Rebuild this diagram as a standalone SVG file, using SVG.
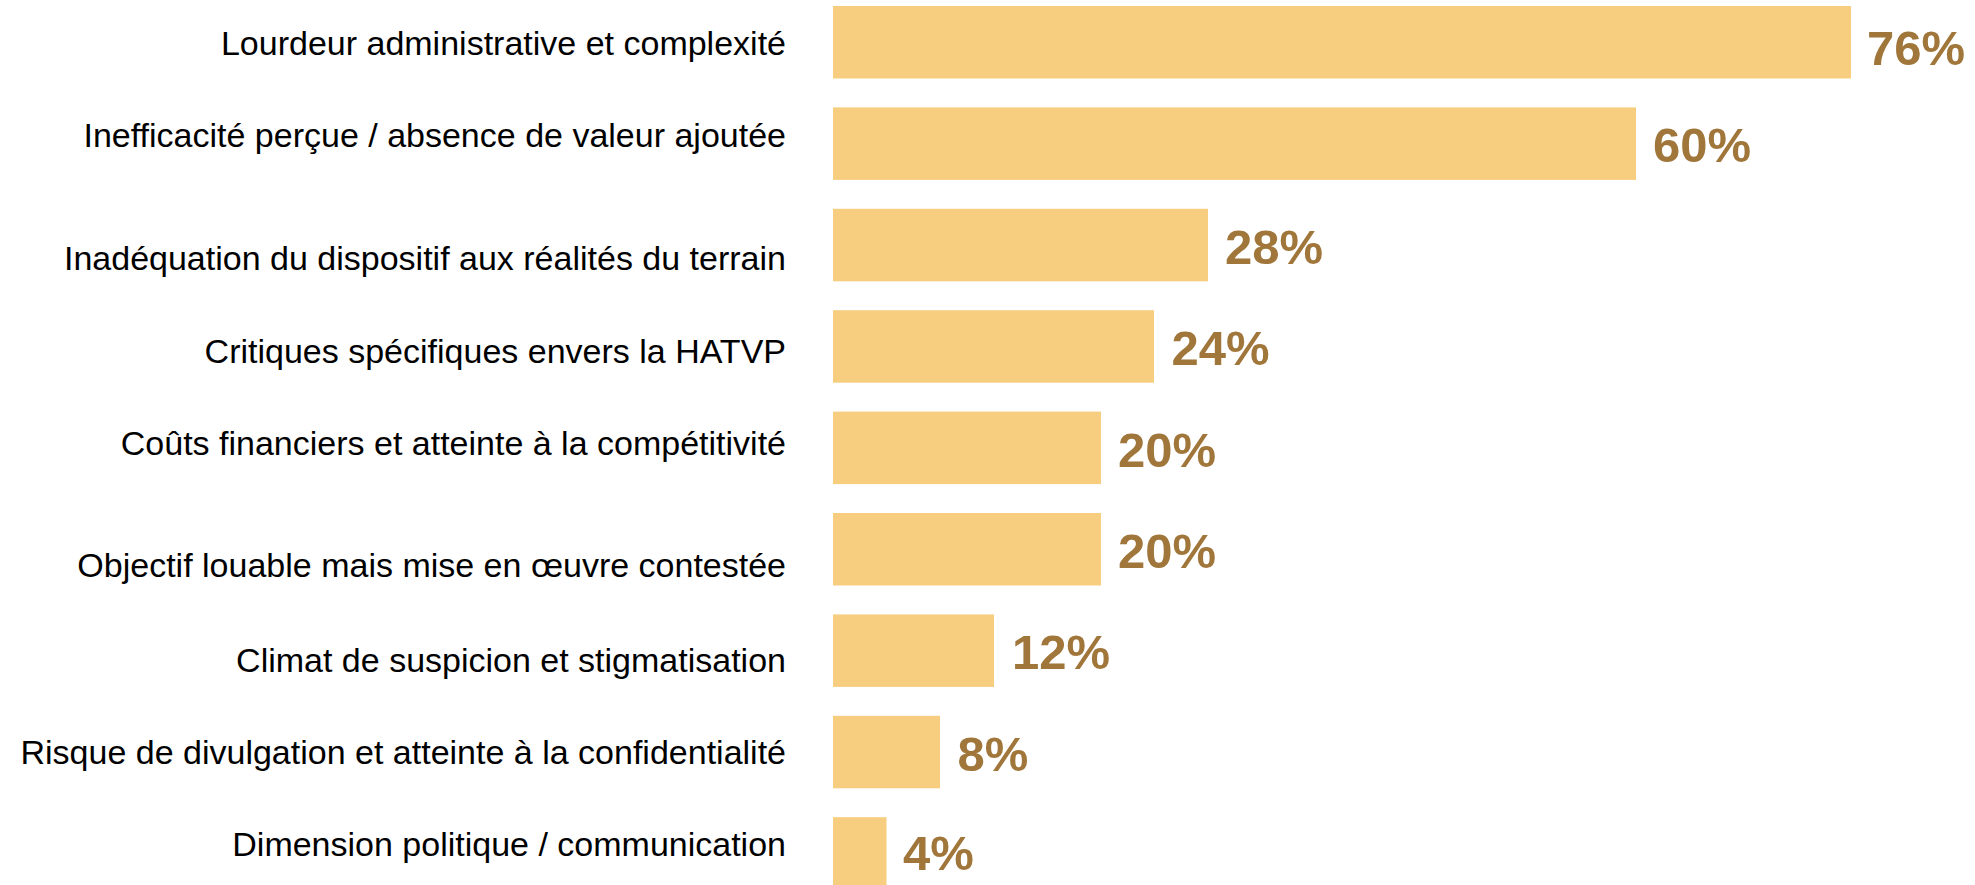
<svg xmlns="http://www.w3.org/2000/svg" width="1975" height="885" viewBox="0 0 1975 885">
<style>
.bar{fill:#F7CE80}
.cat{font-family:"Liberation Sans",Arial,sans-serif;font-size:34px;fill:#000;text-anchor:end}
.val{font-family:"Liberation Sans",Arial,sans-serif;font-size:49px;font-weight:bold;fill:#A0763A}
</style>
<rect width="1975" height="885" fill="#fff"/>
<g id="row1"><rect class="bar" x="833" y="6" width="1018" height="72.5"/><text class="cat" x="786" y="55">Lourdeur administrative et complexité</text><text class="val" x="1867" y="65">76%</text></g>
<g id="row2"><rect class="bar" x="833" y="107.4" width="803" height="72.5"/><text class="cat" x="786" y="146.7">Inefficacité perçue / absence de valeur ajoutée</text><text class="val" x="1653" y="162">60%</text></g>
<g id="row3"><rect class="bar" x="833" y="208.8" width="375" height="72.5"/><text class="cat" x="786" y="270">Inadéquation du dispositif aux réalités du terrain</text><text class="val" x="1225" y="263.5">28%</text></g>
<g id="row4"><rect class="bar" x="833" y="310.2" width="321" height="72.5"/><text class="cat" x="786" y="363.3">Critiques spécifiques envers la HATVP</text><text class="val" x="1171.5" y="365">24%</text></g>
<g id="row5"><rect class="bar" x="833" y="411.6" width="268" height="72.5"/><text class="cat" x="786" y="455">Coûts financiers et atteinte à la compétitivité</text><text class="val" x="1118" y="466.7">20%</text></g>
<g id="row6"><rect class="bar" x="833" y="513" width="268" height="72.5"/><text class="cat" x="786" y="577.3">Objectif louable mais mise en œuvre contestée</text><text class="val" x="1118" y="567.7">20%</text></g>
<g id="row7"><rect class="bar" x="833" y="614.4" width="161" height="72.5"/><text class="cat" x="786" y="671.7">Climat de suspicion et stigmatisation</text><text class="val" x="1012" y="669">12%</text></g>
<g id="row8"><rect class="bar" x="833" y="715.8" width="107" height="72.5"/><text class="cat" x="786" y="764">Risque de divulgation et atteinte à la confidentialité</text><text class="val" x="957.5" y="771">8%</text></g>
<g id="row9"><rect class="bar" x="833" y="817.2" width="53.5" height="68"/><text class="cat" x="786" y="856">Dimension politique / communication</text><text class="val" x="903" y="870">4%</text></g>
<g id="connectors"/>
</svg>
